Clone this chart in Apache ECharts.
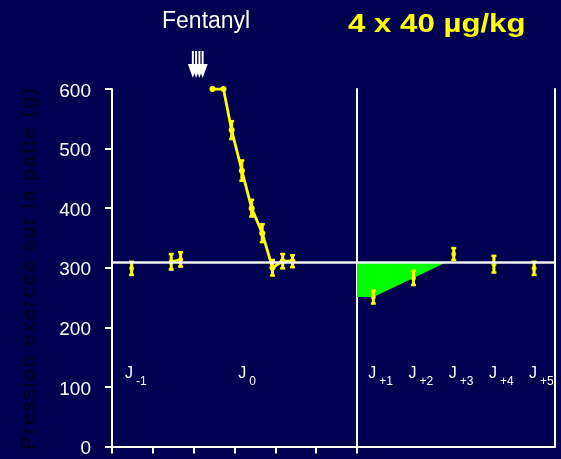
<!DOCTYPE html>
<html>
<head>
<meta charset="utf-8">
<script src="https://cdn.jsdelivr.net/npm/echarts@6/dist/echarts.min.js"></script>
<style>
  html, body { margin: 0; padding: 0; background: #000050; }
  #main { width: 561px; height: 459px; }
</style>
</head>
<body>
<div id="main"></div>
<script>
// Paw-pressure threshold (g) before, during and after repeated fentanyl dosing.
// Left panel: time slots on the day before (J-1) and the dosing day (J0).
// Right panel: following days J+1 .. J+5.

const baseline = 310;                       // pre-treatment reference level (g)

// Day -1
const preTimes  = [0.48];
const preMeans  = [299];
const preErrors = [11];

// Day 0, just before dosing
const pairTimes  = [1.45, 1.68];
const pairMeans  = [310, 314];
const pairErrors = [13, 12];

// Day 0, after the 4 injections
const curveTimes  = [2.46, 2.73, 2.93, 3.18, 3.42, 3.68, 3.93, 4.18, 4.42];
const curveMeans  = [600, 600, 531, 463, 400, 358, 300, 311, 311];
const curveErrors = [0, 0, 15, 17, 14, 15, 13, 12, 10];

// Injection times (4 x 40 µg/kg)
const doseTimes = [1.98, 2.06, 2.14, 2.22];

// Following days
const postDays   = [1, 2, 3, 4, 5];
const postMeans  = [251, 283, 323, 306, 299];
const postErrors = [11, 12, 10, 14, 11];

// Day tags
const leftTagX    = [0.32, 3.09];
const leftTagSub  = ['-1', '0'];
const rightTagSub = ['+1', '+2', '+3', '+4', '+5'];
const tagLevel    = 122;

const yTitle = 'Pression exercée sur la patte (g)';

const FONT = '"Liberation Sans", Arial, Helvetica, sans-serif';
const YELLOW = '#ffff00';
const GREEN = '#00ff00';
const WHITE = '#ffffff';
const RIGHT_MIN = 0.594, RIGHT_MAX = 5.52;

const chart = echarts.init(document.getElementById('main'), null, { renderer: 'canvas' });

function errorBarSeries(axisIndex, xs, means, errs) {
  return {
    type: 'custom',
    xAxisIndex: axisIndex,
    yAxisIndex: axisIndex === 0 ? 0 : 1,
    silent: true,
    z: 4,
    data: xs.map((x, i) => [x, means[i] - errs[i], means[i] + errs[i]])
            .filter(d => d[2] > d[1]),
    renderItem(params, api) {
      const lo = api.coord([api.value(0), api.value(1)]);
      const hi = api.coord([api.value(0), api.value(2)]);
      const w = 2.5;
      const bar = { stroke: YELLOW, lineWidth: 3 };
      const cap = { stroke: YELLOW, lineWidth: 2.5 };
      return {
        type: 'group',
        children: [
          { type: 'line', shape: { x1: lo[0], y1: lo[1], x2: hi[0], y2: hi[1] }, style: bar },
          { type: 'line', shape: { x1: lo[0] - w, y1: lo[1], x2: lo[0] + w, y2: lo[1] }, style: cap },
          { type: 'line', shape: { x1: hi[0] - w, y1: hi[1], x2: hi[0] + w, y2: hi[1] }, style: cap }
        ]
      };
    }
  };
}

function tagSeries(axisIndex, points, shiftPx) {
  return {
    type: 'custom',
    xAxisIndex: axisIndex,
    yAxisIndex: axisIndex === 0 ? 0 : 1,
    silent: true,
    z: 5,
    data: points,
    renderItem(params, api) {
      const p = api.coord([api.value(0), api.value(1)]);
      const x = p[0] + shiftPx;
      const sub = points[params.dataIndex][2];
      return {
        type: 'group',
        children: [
          { type: 'text', x: x, y: p[1],
            style: { text: 'J', fill: WHITE, font: '16px ' + FONT, align: 'left', verticalAlign: 'middle' } },
          { type: 'text', x: x + 11, y: p[1] + 7.5,
            style: { text: sub, fill: WHITE, font: '12px ' + FONT, align: 'left', verticalAlign: 'middle' } }
        ]
      };
    }
  };
}

const baselineMark = {
  silent: true,
  symbol: ['none', 'none'],
  label: { show: false },
  lineStyle: { color: '#f2f2f2', width: 2.5, type: 'solid' },
  data: [{ yAxis: baseline }]
};

const axisLineStyle = { color: WHITE, width: 2 };

// Vertical axis title, laid out glyph by glyph with a little tracking
function yTitleGraphics() {
  const font = '21px ' + FONT;
  const ctx = document.createElement('canvas').getContext('2d');
  ctx.font = font;
  const chars = Array.from(yTitle);
  const widths = chars.map(c => ctx.measureText(c).width);
  const natural = widths.reduce((a, b) => a + b, 0);
  const span = 362, bottom = 450;
  const track = (span - natural) / (chars.length - 1);
  let pos = bottom;
  return chars.map((c, i) => {
    const g = {
      type: 'text', x: 29.5, y: pos, rotation: Math.PI / 2, silent: true,
      style: { text: c, fill: '#00001e', font: font, align: 'left', verticalAlign: 'middle' }
    };
    pos -= widths[i] + track;
    return g;
  });
}

const titleGraphics = [
  { type: 'text', x: 162, y: 22, silent: true,
    style: { text: 'Fentanyl', fill: WHITE, font: '23px ' + FONT, align: 'left', verticalAlign: 'middle' } },
  { type: 'text', x: 348, y: 25, scaleX: 1.2, silent: true,
    style: { text: '4 x 40 µg/kg', fill: YELLOW, font: 'bold 26px ' + FONT, align: 'left', verticalAlign: 'middle' } }
];

const option = {
  backgroundColor: '#000050',
  animation: false,
  grid: [
    { left: 112, top: 89, width: 245, height: 357.5, containLabel: false, outerBoundsMode: 'none' },
    { left: 357, top: 89, width: 198, height: 357.5, containLabel: false, outerBoundsMode: 'none' }
  ],
  xAxis: [
    { gridIndex: 0, type: 'value', min: 0, max: 6, interval: 1,
      axisLine: { show: true, onZero: false, lineStyle: axisLineStyle },
      axisTick: { show: true, inside: false, length: 7, lineStyle: axisLineStyle },
      axisLabel: { show: false }, splitLine: { show: false } },
    { gridIndex: 1, type: 'value', min: RIGHT_MIN, max: RIGHT_MAX,
      axisLine: { show: true, onZero: false, lineStyle: axisLineStyle },
      axisTick: { show: false }, axisLabel: { show: false }, splitLine: { show: false } }
  ],
  yAxis: [
    { gridIndex: 0, type: 'value', min: 0, max: 600, interval: 100,
      axisLine: { show: true, onZero: false, lineStyle: axisLineStyle },
      axisTick: { show: true, inside: false, length: 7, lineStyle: axisLineStyle },
      axisLabel: {
        margin: 21,
        formatter: '{v|{value}}',
        rich: { v: { color: WHITE, fontSize: 19, fontFamily: FONT, padding: [5, 0, 0, 0] } }
      },
      splitLine: { show: false } },
    { gridIndex: 1, type: 'value', min: 0, max: 600, position: 'left',
      axisLine: { show: true, onZero: false, lineStyle: axisLineStyle },
      axisTick: { show: false }, axisLabel: { show: false }, splitLine: { show: false } },
    { gridIndex: 1, type: 'value', min: 0, max: 600, position: 'right',
      axisLine: { show: true, onZero: false, lineStyle: axisLineStyle },
      axisTick: { show: false }, axisLabel: { show: false }, splitLine: { show: false } }
  ],
  series: [
    // shaded deficit below the reference level on J+1 .. J+2
    {
      type: 'custom', xAxisIndex: 1, yAxisIndex: 1, silent: true, z: 1,
      data: [[postDays[0], postMeans[0]]],
      renderItem(params, api) {
        const slope = (postMeans[1] - postMeans[0]) / (postDays[1] - postDays[0]);
        const xCross = postDays[1] + (baseline - postMeans[1]) / slope;
        const pts = [
          api.coord([RIGHT_MIN, postMeans[0]]),
          api.coord([postDays[0], postMeans[0]]),
          api.coord([postDays[1], postMeans[1]]),
          api.coord([xCross, baseline]),
          api.coord([RIGHT_MIN, baseline])
        ];
        return { type: 'polygon', shape: { points: pts }, style: { fill: GREEN } };
      }
    },
    {
      type: 'scatter', xAxisIndex: 0, yAxisIndex: 0, z: 4,
      symbol: 'circle', symbolSize: 5, itemStyle: { color: YELLOW },
      data: preTimes.map((t, i) => [t, preMeans[i]])
    },
    {
      type: 'line', xAxisIndex: 0, yAxisIndex: 0, z: 4,
      symbol: 'circle', symbolSize: 5, showSymbol: true,
      itemStyle: { color: YELLOW }, lineStyle: { color: YELLOW, width: 2.5 },
      data: pairTimes.map((t, i) => [t, pairMeans[i]]),
      markLine: baselineMark
    },
    {
      type: 'line', xAxisIndex: 0, yAxisIndex: 0, z: 4,
      symbol: 'circle', symbolSize: 6, showSymbol: true,
      itemStyle: { color: YELLOW }, lineStyle: { color: YELLOW, width: 2.8 },
      data: curveTimes.map((t, i) => [t, curveMeans[i]])
    },
    errorBarSeries(0, preTimes, preMeans, preErrors),
    errorBarSeries(0, pairTimes, pairMeans, pairErrors),
    errorBarSeries(0, curveTimes, curveMeans, curveErrors),
    {
      type: 'scatter', xAxisIndex: 1, yAxisIndex: 1, z: 4,
      symbol: 'circle', symbolSize: 5, itemStyle: { color: YELLOW },
      data: postDays.map((d, i) => [d, postMeans[i]]),
      markLine: baselineMark
    },
    errorBarSeries(1, postDays, postMeans, postErrors),
    tagSeries(0, leftTagX.map((x, i) => [x, tagLevel, leftTagSub[i]]), 0),
    tagSeries(1, postDays.map((d, i) => [d, tagLevel, rightTagSub[i]]), -5)
  ],
  graphic: titleGraphics.concat(yTitleGraphics())
};

chart.setOption(option);

// Injection arrows above the plot, placed at the dose times on the left time axis
const arrows = doseTimes.map(t => {
  const x = chart.convertToPixel({ xAxisIndex: 0 }, t);
  return {
    type: 'group', silent: true,
    children: [
      { type: 'line', shape: { x1: x, y1: 51, x2: x, y2: 70 }, style: { stroke: WHITE, lineWidth: 2 } },
      { type: 'polygon', shape: { points: [[x - 5, 64], [x + 5, 64], [x, 78]] }, style: { fill: WHITE } }
    ]
  };
});
chart.setOption({ graphic: option.graphic.concat(arrows) });
</script>
</body>
</html>
